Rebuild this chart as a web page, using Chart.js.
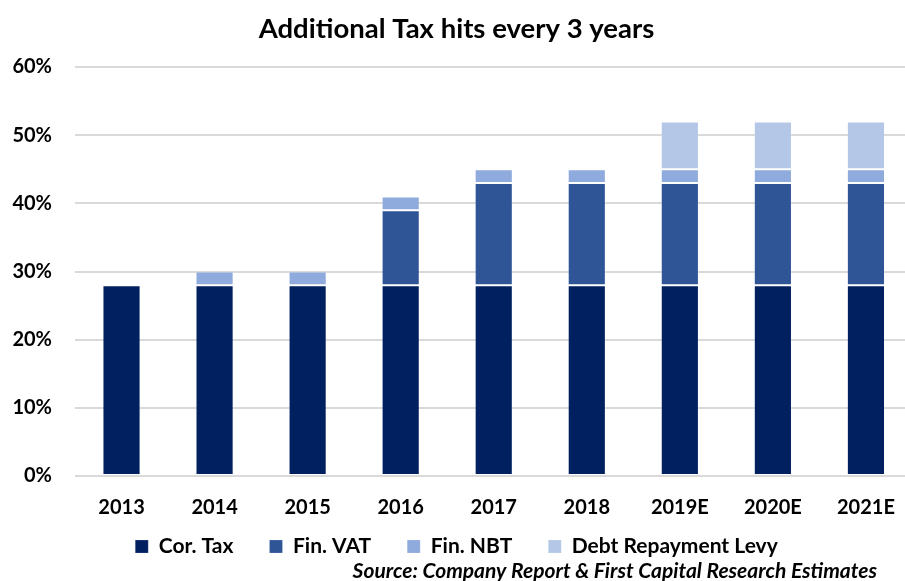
<!DOCTYPE html>
<html>
<head>
<meta charset="utf-8">
<script src="https://cdn.jsdelivr.net/npm/chart.js@4"></script>
<style>
  html, body { margin: 0; padding: 0; background: #fff; overflow: hidden; }
  #wrap { position: relative; width: 915px; height: 581px; }
</style>
</head>
<body>
<div id="wrap"><canvas id="canvas-tax"></canvas></div>
<script>
const years = ["2013", "2014", "2015", "2016", "2017", "2018", "2019E", "2020E", "2021E"];
const corTax = [28, 28, 28, 28, 28, 28, 28, 28, 28];
const finVat = [null, null, null, 11, 15, 15, 15, 15, 15];
const finNbt = [null, 2, 2, 2, 2, 2, 2, 2, 2];
const debtLevy = [null, null, null, null, null, null, 7, 7, 7];
const sourceText = "Source: Company Report & First Capital Research Estimates";

const FONT = "Lato, Carlito, 'Open Sans', sans-serif";
Chart.defaults.font.family = FONT;
Chart.defaults.color = "#000";

function series(label, data, color) {
  return {
    label: label,
    data: data,
    backgroundColor: color,
    borderColor: "rgba(255, 255, 255, 0.18)",
    borderWidth: 1,
    borderSkipped: false,
    barPercentage: 0.41,
    categoryPercentage: 1,
  };
}

// source line under the legend
const sourceNote = {
  id: "sourceNote",
  afterDraw(chart) {
    const ctx = chart.ctx;
    ctx.save();
    ctx.font = "italic bold 21px " + FONT;
    ctx.fillStyle = "#000";
    ctx.textAlign = "right";
    ctx.textBaseline = "middle";
    ctx.fillText(sourceText, 877, 571);
    ctx.restore();
  },
};

new Chart(document.getElementById("canvas-tax"), {
  type: "bar",
  plugins: [sourceNote],
  data: {
    labels: years,
    datasets: [
      series("Cor. Tax", corTax, "#002060"),
      series("Fin. VAT", finVat, "#2F5597"),
      series("Fin. NBT", finNbt, "#8FAADC"),
      series("Debt Repayment Levy", debtLevy, "#B4C7E7"),
    ],
  },
  options: {
    responsive: true,
    maintainAspectRatio: false,
    animation: false,
    layout: {
      padding: { left: 0, right: 2, top: 0, bottom: 14 },
    },
    scales: {
      x: {
        stacked: true,
        grid: { display: false, drawTicks: false, tickLength: 0 },
        border: { display: false },
        ticks: {
          font: { size: 20, weight: "bold" },
          padding: 20,
        },
        afterFit(scale) {
          scale.height -= 19;
        },
      },
      y: {
        stacked: true,
        min: 0,
        max: 60,
        border: { display: false },
        grid: {
          color: "#d9d9d9",
          lineWidth: 2,
          drawTicks: false,
          tickLength: 0,
        },
        ticks: {
          stepSize: 10,
          padding: 23,
          font: { size: 20, weight: "bold" },
          callback: (v) => v + "%",
        },
        afterFit(scale) {
          scale.width = 75;
        },
      },
    },
    plugins: {
      title: {
        display: true,
        text: "Additional Tax hits every 3 years",
        font: { size: 27.5, weight: "bold" },
        color: "#000",
        padding: { top: 13, bottom: 21 },
      },
      legend: {
        display: true,
        position: "bottom",
        labels: {
          boxWidth: 13,
          boxHeight: 13,
          padding: 15,
          font: { size: 21, weight: "bold" },
          color: "#000",
          generateLabels(chart) {
            const items = Chart.defaults.plugins.legend.labels.generateLabels(chart);
            // widen the gap between legend entries
            items.forEach((it, i) => {
              if (i < items.length - 1) it.text += "\u2002\u2002";
            });
            return items;
          },
        },
      },
      tooltip: { enabled: false },
    },
  },
});
</script>
</body>
</html>
